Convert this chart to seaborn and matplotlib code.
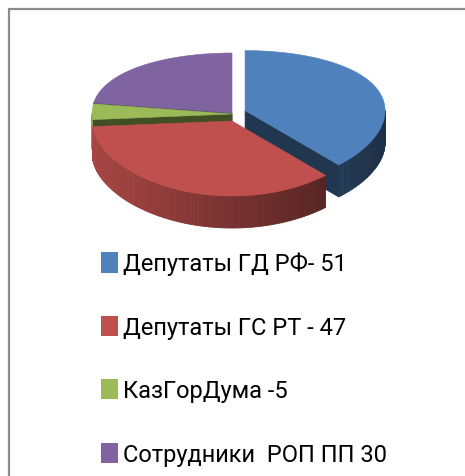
import numpy as np
import matplotlib
matplotlib.use("Agg")
import matplotlib.pyplot as plt
import seaborn as sns
from matplotlib.patches import Polygon, Patch
from matplotlib.collections import PolyCollection
from matplotlib.lines import Line2D

# data
labels = ["Депутаты ГД РФ- 51", "Депутаты ГС РТ - 47", "КазГорДума -5", "Сотрудники  РОП ПП 30"]
values = [51, 47, 5, 30]
colors = ["#4F81BD", "#C0504D", "#9BBB59", "#8064A2"]

sns.set_theme(style="white")
palette = sns.color_palette(colors)
plt.rcParams["font.family"] = ["Roboto", "DejaVu Sans"]
plt.rcParams["text.color"] = "black"

W, H = 465, 477
fig = plt.figure(figsize=(W / 100, H / 100), dpi=100)
ax = fig.add_axes([0, 0, 1, 1])
ax.set_xlim(0, W)
ax.set_ylim(H, 0)
ax.axis("off")

# fake 3D pie geometry (pixels)
cx, cy, ay = 232, 121.5, 114
a, b, e = 140, 67.5, -7.5
thick = 32
explode = [0.1, 0, 0, 0]
drop = [0, 8, 1, 0]


def rim(t, dx, dy):
    r = np.radians(t)
    return cx + dx + a * np.sin(r), cy + dy - b * np.cos(r) + e * np.sin(r) ** 2


def shade(c, f):
    return tuple(np.clip(np.array(c) * f, 0, 1))


fracs = np.array(values) / np.sum(values)
ends = np.cumsum(fracs) * 360
starts = ends - fracs * 360

for i in [3, 2, 0, 1]:
    t0, t1 = starts[i], ends[i]
    mid = np.radians((t0 + t1) / 2)
    dx = explode[i] * a * np.sin(mid)
    dy = -explode[i] * b * np.cos(mid) + drop[i]
    base = palette[i]
    apex = (cx + dx, ay + dy)

    # radial cut faces
    faces = []
    if np.sin(np.radians(t1)) > 0:
        faces.append(t1)
    if np.sin(np.radians(t0)) < 0:
        faces.append(t0)
    for t in faces:
        rx, ry = rim(t, dx, dy)
        poly = [apex, (rx, ry), (rx, ry + thick), (apex[0], apex[1] + thick)]
        ax.add_patch(Polygon(poly, closed=True, fc=shade(base, 0.42),
                             ec=shade(base, 0.42), lw=0.5))

    # outer wall
    lo, hi = max(t0, 90), min(t1, 270)
    if hi > lo:
        ts = np.linspace(lo, hi, int(hi - lo) + 2)
        quads, qc = [], []
        for u, v in zip(ts[:-1], ts[1:]):
            ux, uy = rim(u, dx, dy)
            vx, vy = rim(v, dx, dy)
            quads.append([(ux, uy), (vx, vy), (vx, vy + thick), (ux, uy + thick)])
            f = 0.62 - 0.25 * np.sin(np.radians((u + v) / 2))
            qc.append(shade(base, f))
        ax.add_collection(PolyCollection(quads, facecolors=qc, edgecolors=qc, linewidths=0.6))

    # top face
    ts = np.linspace(t0, t1, int(t1 - t0) + 2)
    xs, ys = rim(ts, dx, dy)
    top = [apex] + list(zip(xs, ys))
    ax.add_patch(Polygon(top, closed=True, fc=base, ec=base, lw=0.4))

handles = [Patch(facecolor=c, edgecolor="none") for c in palette]
fig.legend(handles, labels, loc="upper left", bbox_to_anchor=(101 / W, 1 - 253 / H),
           frameon=False, fontsize=17, handlelength=0.7, handleheight=0.95,
           handletextpad=0.22, labelspacing=1.7, borderpad=0, borderaxespad=0)

# chart frame
fig.add_artist(Line2D([8.5 / W, 1], [1 - 9.5 / H, 1 - 9.5 / H], color="#8c8c8c", lw=1.6))
fig.add_artist(Line2D([8.5 / W, 8.5 / W], [0, 1 - 9.5 / H], color="#8c8c8c", lw=1.6))

fig.savefig("out.png", dpi=100, facecolor="white")
